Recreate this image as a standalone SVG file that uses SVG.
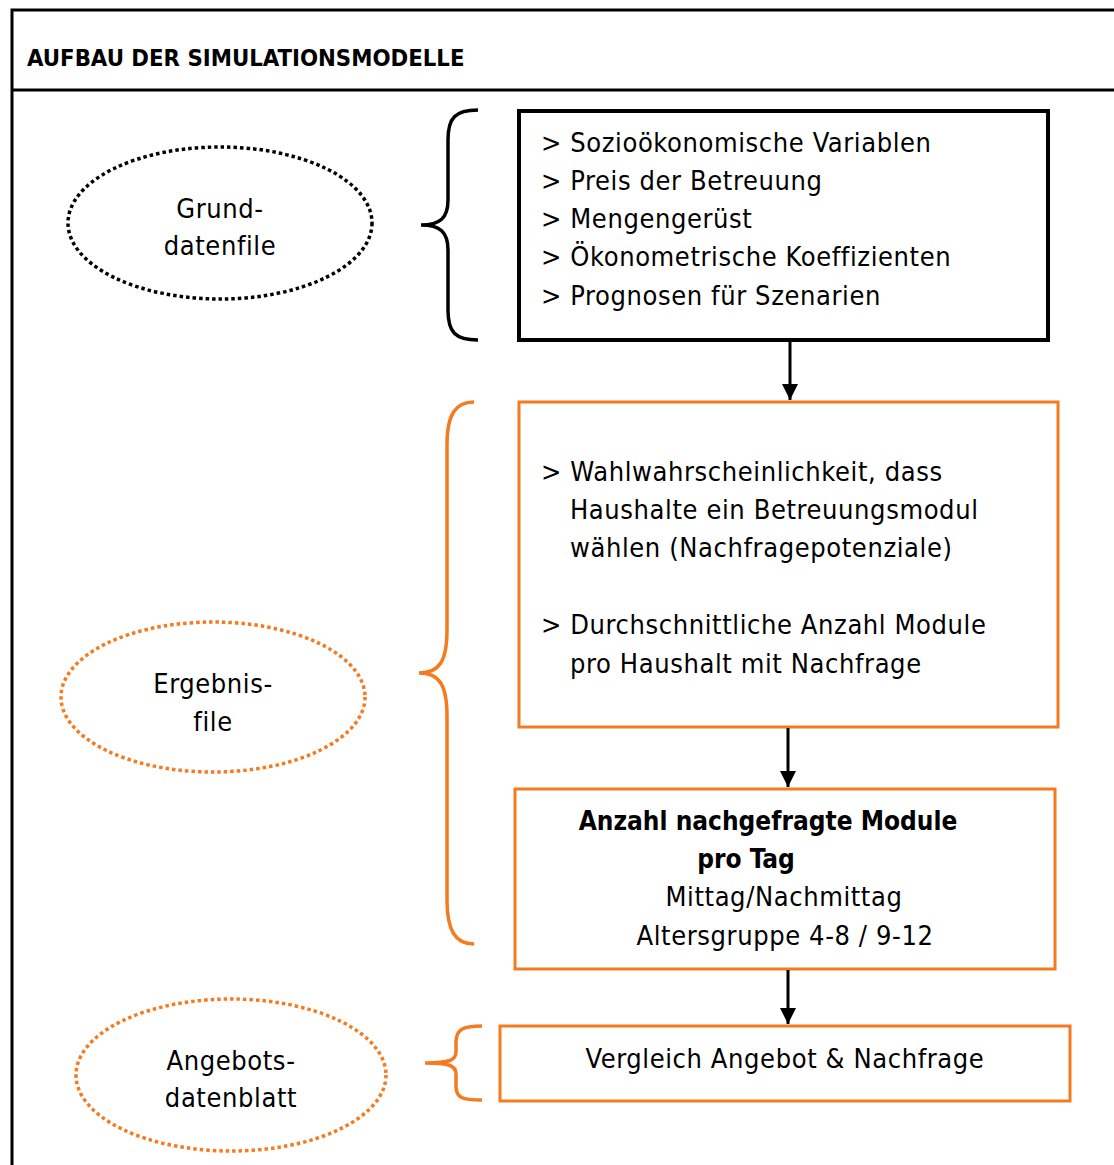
<svg xmlns="http://www.w3.org/2000/svg" width="1114" height="1165" viewBox="0 0 1114 1165">
<defs>
<style>
text{font-family:"DejaVu Sans Condensed","DejaVu Sans","Liberation Sans",sans-serif;font-stretch:condensed;font-size:27px;letter-spacing:0.6px;fill:#000}
.t{font-weight:bold;font-size:23.7px;letter-spacing:0}
.b{font-weight:bold;font-size:26px;letter-spacing:0}
.k{fill:none;stroke:#000}
.o{fill:none;stroke:#F47B20}
.c{text-anchor:middle}
</style>
<marker id="ah" viewBox="0 0 10 10" refX="10" refY="5" markerWidth="16" markerHeight="16" markerUnits="userSpaceOnUse" orient="auto">
<path d="M0,0 L10,5 L0,10 Z" fill="#000"/>
</marker>
</defs>
<rect width="1114" height="1165" fill="#fff"/>
<g id="frame">
<path class="k" stroke-width="3" d="M12,1165 V10 H1114 M12,90 H1114"/>
<text class="t" x="27" y="66">AUFBAU DER SIMULATIONSMODELLE</text>
</g>
<g id="grunddatenfile">
<ellipse class="k" cx="220" cy="223" rx="152" ry="76" stroke-width="3.5" stroke-dasharray="3.5 3"/>
<text class="c" x="220" y="218">Grund-</text>
<text class="c" x="220" y="255">datenfile</text>
</g>
<g id="brace1">
<path class="k" stroke-width="3.5" d="M478,110 C455,110 448,118 448,140 V200 C448,218 440,225 421,225 C440,225 448,232 448,250 V310 C448,332 455,340 478,340"/>
</g>
<g id="box1">
<rect class="k" x="519" y="111" width="529" height="229" stroke-width="4"/>
<text x="541" y="152">&gt; Sozioökonomische Variablen</text>
<text x="541" y="190">&gt; Preis der Betreuung</text>
<text x="541" y="228">&gt; Mengengerüst</text>
<text x="541" y="266">&gt; Ökonometrische Koeffizienten</text>
<text x="541" y="305">&gt; Prognosen für Szenarien</text>
</g>
<g id="ergebnisfile">
<ellipse class="o" cx="213" cy="697" rx="152" ry="75" stroke-width="3.5" stroke-dasharray="3.5 3"/>
<text class="c" x="213" y="693">Ergebnis-</text>
<text class="c" x="213" y="731">file</text>
</g>
<g id="brace2">
<path class="o" stroke-width="3.5" d="M474,402 C455,402 447,415 447,445 V630 C447,660 440,673 419,673 C440,673 447,686 447,716 V900 C447,930 455,944 474,944"/>
</g>
<g id="box2">
<rect class="o" x="519" y="402" width="539" height="325" stroke-width="3"/>
<text x="541" y="481">&gt; Wahlwahrscheinlichkeit, dass</text>
<text x="570" y="519">Haushalte ein Betreuungsmodul</text>
<text x="570" y="557">wählen (Nachfragepotenziale)</text>
<text x="541" y="634">&gt; Durchschnittliche Anzahl Module</text>
<text x="570" y="673">pro Haushalt mit Nachfrage</text>
</g>
<g id="box3">
<rect class="o" x="515" y="789" width="540" height="180" stroke-width="3"/>
<text class="b c" x="768" y="830">Anzahl nachgefragte Module</text>
<text class="b c" x="746" y="868">pro Tag</text>
<text class="c" x="784" y="906">Mittag/Nachmittag</text>
<text class="c" x="785" y="945">Altersgruppe 4-8 / 9-12</text>
</g>
<g id="angebotsdatenblatt">
<ellipse class="o" cx="231" cy="1075" rx="155" ry="76" stroke-width="3.5" stroke-dasharray="3.5 3"/>
<text class="c" x="231" y="1070">Angebots-</text>
<text class="c" x="231" y="1107">datenblatt</text>
</g>
<g id="brace3">
<path class="o" stroke-width="3.5" d="M482,1026 C462,1026 456,1030 456,1042 V1052 C456,1060 450,1063 425,1063 C450,1063 456,1066 456,1074 V1086 C456,1098 462,1100 482,1100"/>
</g>
<g id="box4">
<rect class="o" x="500" y="1026" width="570" height="75" stroke-width="3"/>
<text class="c" x="785" y="1068">Vergleich Angebot &amp; Nachfrage</text>
</g>
<g id="connectors">
<line class="k" x1="790" y1="341" x2="790" y2="400" stroke-width="3" marker-end="url(#ah)"/>
<line class="k" x1="788" y1="728" x2="788" y2="787" stroke-width="3" marker-end="url(#ah)"/>
<line class="k" x1="788" y1="970" x2="788" y2="1024" stroke-width="3" marker-end="url(#ah)"/>
</g>
</svg>
